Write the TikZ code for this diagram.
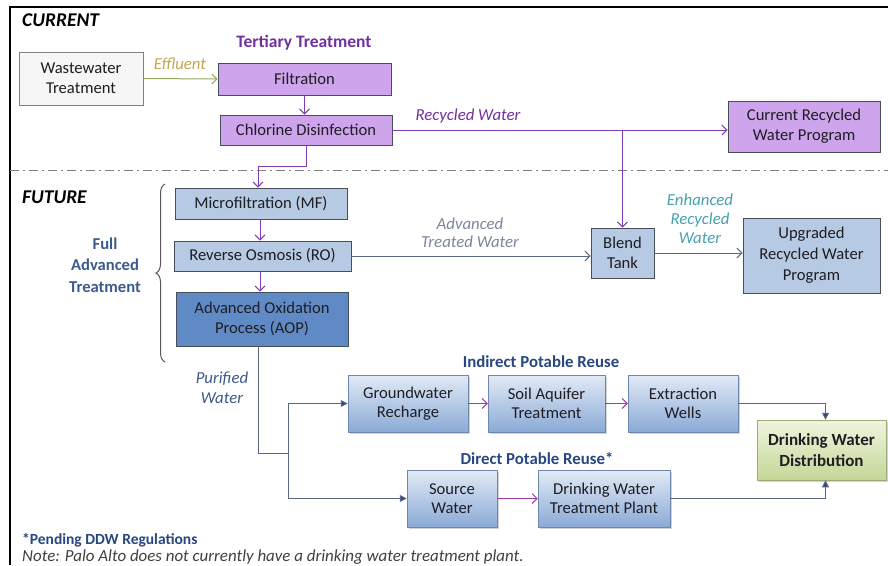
\documentclass[tikz,border=0pt]{standalone}
\usepackage{fontspec}
\setmainfont{Carlito}
\usetikzlibrary{arrows.meta,shadows,decorations.pathreplacing,calc}
\definecolor{purfill}{RGB}{206,164,236}
\definecolor{purline}{RGB}{128,60,176}
\definecolor{purtext}{RGB}{112,48,160}
\definecolor{bluefill}{RGB}{182,202,228}
\definecolor{aopfill}{RGB}{96,138,198}
\definecolor{boxline}{RGB}{70,78,90}
\definecolor{greyblue}{RGB}{90,104,130}
\definecolor{navy}{RGB}{40,70,130}
\definecolor{labblue}{RGB}{60,90,140}
\definecolor{teal}{RGB}{70,160,176}
\definecolor{gold}{RGB}{196,168,80}
\definecolor{olive}{RGB}{150,168,96}
\definecolor{pink}{RGB}{160,60,170}
\definecolor{gradtop}{RGB}{226,234,246}
\definecolor{gradbot}{RGB}{138,170,214}
\definecolor{greentop}{RGB}{240,245,224}
\definecolor{greenbot}{RGB}{196,214,150}
\definecolor{txt}{RGB}{30,30,35}
\tikzset{
  box/.style={draw=boxline, line width=0.8pt, inner sep=0pt, align=center, text=txt, font=\fontsize{16.6}{20}\selectfont},
  pbox/.style={box, fill=purfill},
  bbox/.style={box, fill=bluefill},
  gbox/.style={box, draw=gradbot!80!black, line width=0.5pt, top color=gradtop, bottom color=gradbot,
     drop shadow={opacity=0.35, shadow xshift=2pt, shadow yshift=-2pt}, font=\fontsize{16.6}{19.5}\selectfont},
  grbox/.style={box, draw=greenbot!80!black, line width=0.5pt, top color=greentop, bottom color=greenbot,
     drop shadow={opacity=0.35, shadow xshift=2pt, shadow yshift=-2pt}, font=\bfseries\fontsize{17}{21.5}\selectfont},
  parrow/.style={draw=purline, line width=1pt, -{Straight Barb[length=5pt,width=10pt]}},
  garrow/.style={draw=greyblue, line width=1pt, -{Straight Barb[length=5pt,width=10pt]}},
  narrow/.style={draw=greyblue, line width=1pt, -{Triangle[length=7pt,width=7pt,fill=navy]}},
  lab/.style={font=\itshape\fontsize{16.8}{19}\selectfont, align=center, inner sep=0pt},
  head/.style={font=\bfseries\fontsize{16.8}{18}\selectfont, inner sep=0pt},
}
\begin{document}
\begin{tikzpicture}[x=1pt,y=-1pt]
\useasboundingbox (0,0) rectangle (888,565);
% frame
\draw[line width=2.5pt] (888,7) -- (10,7) -- (10,565);
% separator
\draw[gray, line width=1pt, dash pattern=on 9pt off 4pt on 2pt off 4pt] (10,170) -- (888,170);
% section titles
\node[anchor=west, font=\bfseries\itshape\fontsize{19.5}{20}\selectfont, inner sep=0pt] (cur) at (22,20) {CURRENT};
\node[anchor=west, font=\bfseries\itshape\fontsize{19.5}{20}\selectfont, inner sep=0pt] (fut) at (22,197) {FUTURE};
\node[head, text=purtext, font=\bfseries\fontsize{17.5}{18}\selectfont] (tert) at (304,43) {Tertiary Treatment};
% current boxes
\node[box, fill=gray!7, draw=gray, minimum width=124pt, minimum height=53pt] (ww) at (81,78.5) {Wastewater\\Treatment};
\node[pbox, minimum width=173pt, minimum height=32pt] (filt) at (304.5,79) {Filtration};
\node[pbox, minimum width=172pt, minimum height=30pt] (chl) at (306,130) {Chlorine Disinfection};
\node[pbox, minimum width=152pt, minimum height=51pt] (crw) at (804,126.5) {Current Recycled\\Water Program};
% future boxes
\node[bbox, minimum width=172pt, minimum height=31pt] (mf) at (261,203.5) {Microfiltration (MF)};
\node[bbox, minimum width=177pt, minimum height=30pt] (ro) at (262.5,256) {Reverse Osmosis (RO)};
\node[box, fill=aopfill, minimum width=172pt, minimum height=54pt] (aop) at (262,319) {Advanced Oxidation\\Process (AOP)};
\node[bbox, minimum width=63pt, minimum height=50pt] (blend) at (622.5,253) {Blend\\Tank};
\node[bbox, minimum width=137pt, minimum height=75pt, font=\fontsize{16.6}{21}\selectfont] (urw) at (811.5,255.5) {Upgraded\\Recycled Water\\Program};
% potable reuse
\node[gbox, minimum width=120pt, minimum height=57pt] (gr) at (408,403.5) {Groundwater\\Recharge};
\node[gbox, minimum width=117pt, minimum height=57pt] (soil) at (546.5,403.5) {Soil Aquifer\\Treatment};
\node[gbox, minimum width=110pt, minimum height=57pt] (ext) at (683,403.5) {Extraction\\Wells};
\node[grbox, minimum width=129pt, minimum height=60pt] (dwd) at (821.5,450) {Drinking Water\\Distribution};
\node[gbox, minimum width=90pt, minimum height=57pt] (src) at (452,498.5) {Source\\Water};
\node[gbox, minimum width=132pt, minimum height=57pt] (dwtp) at (604,498.5) {Drinking Water\\Treatment Plant};
% headings
\node[head, text=navy] (ipr) at (541,362) {Indirect Potable Reuse};
\node[head, text=navy] (dpr) at (537,459) {Direct Potable Reuse*};
\node[font=\bfseries\fontsize{16.6}{21.5}\selectfont, text=labblue, align=center, inner sep=0pt] (fat) at (105,265) {Full\\Advanced\\Treatment};
% brace
\draw[gray!70!black, line width=1pt, decorate, decoration={brace, amplitude=9pt}] (165,362) -- (165,184);
% labels
\node[lab, text=gold] (eff) at (180,64) {Effluent};
\node[lab, text=purtext] (rw) at (468,116) {Recycled Water};
\node[lab, text=greyblue!80, font=\itshape\fontsize{16.8}{18}\selectfont] (atw) at (470,233) {Advanced\\Treated Water};
\node[lab, text=teal] (erw) at (700,219) {Enhanced\\Recycled\\Water};
\node[lab, text=labblue, font=\itshape\fontsize{16.8}{20}\selectfont] (pw) at (222,388) {Purified\\Water};
\node[anchor=west, font=\bfseries\fontsize{15.5}{16}\selectfont, text=navy, inner sep=0pt] (pend) at (22,540) {*Pending DDW Regulations};
\node[anchor=west, font=\itshape\fontsize{16.9}{18}\selectfont, text=black!75, inner sep=0pt] (note) at (22,557) {Note: Palo Alto does not currently have a drinking water treatment plant.};
% connectors current
\draw[draw=olive, line width=1pt, -{Straight Barb[length=5pt,width=10pt]}] (ww.east) -- (filt.west);
\draw[parrow] (filt.south) -- (filt.south |- chl.north);
\draw[parrow] (chl.east) -- (chl.east -| crw.west);
\coordinate (br) at (blend.north |- chl.east);
\draw[parrow] (br) -- (blend.north);
\coordinate (bend) at ($(chl.south)+(0,21)$);
\draw[parrow] (chl.south) -- (bend) -| ([xshift=-3pt]mf.north);
\draw[parrow] ([xshift=-1pt]mf.south) -- ([xshift=-1pt]mf.south |- ro.north);
\draw[parrow] ([xshift=-2.5pt]ro.south) -- ([xshift=-2.5pt]ro.south |- aop.north);
% future connectors
\draw[garrow] (ro.east) -- (ro.east -| blend.west);
\draw[garrow] (blend.east) -- (blend.east -| urw.west);
\coordinate (c1) at ($(aop.south)+(-4,107)$);
\coordinate (c2) at ($(c1)+(30,0)$);
\draw[greyblue, line width=1pt] ([xshift=-4pt]aop.south) -- (c1) -- (c2);
\draw[narrow] (c2) |- (gr.west);
\draw[narrow] (c2) |- (src.west);
\draw[draw=pink, line width=1pt, -{Straight Barb[length=5pt,width=10pt]}] (gr.east) -- (soil.west);
\draw[draw=pink, line width=1pt, -{Straight Barb[length=5pt,width=10pt]}] (soil.east) -- (ext.west);
\draw[draw=pink, line width=1pt, -{Straight Barb[length=5pt,width=10pt]}] (src.east) -- (dwtp.west);
\draw[narrow] (ext.east) -| ([xshift=4pt]dwd.north);
\draw[narrow] (dwtp.east) -| ([xshift=4pt]dwd.south);
\end{tikzpicture}
\end{document}
